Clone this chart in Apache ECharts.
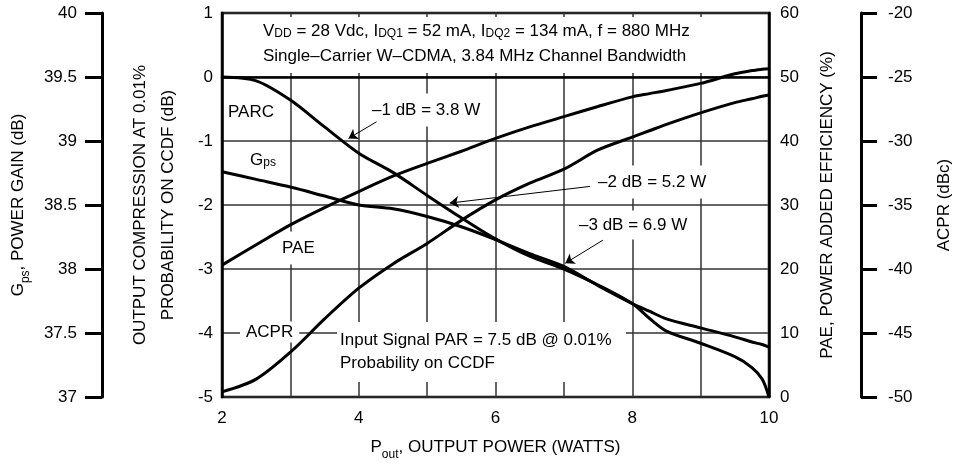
<!DOCTYPE html>
<html>
<head>
<meta charset="utf-8">
<script src="https://cdn.jsdelivr.net/npm/echarts@6/dist/echarts.min.js"></script>
<style>
  html, body { margin: 0; padding: 0; background: #fff; }
  #chart { width: 956px; height: 466px; }
</style>
</head>
<body>
<div id="chart"></div>
<script>
// output power (W) sample points
let power = [2, 2.5, 3, 3.5, 4, 4.5, 5, 5.5, 6, 6.5, 7, 7.5, 8, 8.25, 8.5, 9, 9.5, 9.75, 9.9, 10];
// output compression at 0.01% on CCDF (dB)
let parc = [0, -0.06, -0.36, -0.78, -1.19, -1.49, -1.85, -2.2, -2.53, -2.8, -3.0, -3.25, -3.54, -3.77, -3.97, -4.16, -4.37, -4.54, -4.72, -5.0];
// power gain (dB)
let gps = [38.76, 38.7, 38.64, 38.57, 38.5, 38.47, 38.41, 38.33, 38.23, 38.12, 38.02, 37.87, 37.73, 37.67, 37.61, 37.54, 37.47, 37.43, 37.41, 37.39];
// power added efficiency (%)
let pae = [20.6, 23.8, 26.9, 29.6, 32.1, 34.5, 36.5, 38.4, 40.4, 42.2, 43.8, 45.4, 46.9, 47.4, 47.9, 49.0, 50.5, 51.0, 51.2, 51.3];
// ACPR (dBc)
let acpr = [-49.6, -48.6, -46.5, -43.9, -41.5, -39.6, -38.0, -36.2, -34.6, -33.3, -32.2, -30.7, -29.7, -29.2, -28.7, -27.8, -27.0, -26.7, -26.5, -26.4];

// arrows for the compression points, in PARC axis units [x, y]
let arrow1 = [[4.26, -0.70], [3.85, -0.96]];
let arrow2 = [[7.38, -1.71], [5.33, -1.97]];
let arrow3 = [[7.57, -2.55], [7.02, -2.91]];

const FONT = '"Liberation Sans", Arial, sans-serif';
const TICK = 17;
const TXT = 17;

let chart = echarts.init(document.getElementById('chart'));

function pairs(ys) {
    return power.map((p, i) => [p, ys[i]]);
}

let subRich = {
    s: { fontSize: 12, fontFamily: FONT, color: '#000', verticalAlign: 'bottom', lineHeight: 10 }
};

let labelStyle = { color: '#000', fontSize: TICK, fontFamily: FONT };
let nameStyle = { color: '#000', fontSize: TXT, fontFamily: FONT, lineHeight: 28, rich: subRich };
let gridLine = { show: true, lineStyle: { color: '#333', width: 1.5 } };
let curve = { color: '#000', width: 3 };

function txt(x, y, text, extra) {
    return {
        type: 'text', x: x, y: y, z: 1,
        style: Object.assign({
            text: text, fill: '#000', fontSize: TXT, fontFamily: FONT,
            verticalAlign: 'middle', backgroundColor: '#fff', padding: [2, 4],
            rich: {
                s: { fontSize: 12, fontFamily: FONT, fill: '#000', verticalAlign: 'bottom', lineHeight: 10 }
            }
        }, extra || {})
    };
}

let option = {
    animation: false,
    backgroundColor: '#fff',
    grid: {
        left: 222, right: 187, top: 13, bottom: 69,
        outerBoundsMode: 'none',
        show: true, borderColor: '#000', borderWidth: 2.5
    },
    xAxis: {
        type: 'value', min: 2, max: 10, interval: 1,
        axisLine: { show: true, lineStyle: { color: '#000', width: 2.5 } },
        axisTick: { show: false },
        axisLabel: Object.assign({ margin: 13, formatter: v => (v % 2 === 0 ? v : '') }, labelStyle),
        splitLine: gridLine,
        name: 'P{s|out}, OUTPUT POWER (WATTS)',
        nameLocation: 'middle', nameGap: 36,
        nameTextStyle: nameStyle
    },
    yAxis: [
        {
            type: 'value', position: 'left', min: -5, max: 1, interval: 1,
            axisLine: { show: true, lineStyle: { color: '#000', width: 2.5 } },
            axisTick: { show: false },
            axisLabel: Object.assign({ margin: 9 }, labelStyle),
            splitLine: gridLine,
            name: 'OUTPUT COMPRESSION AT 0.01%\nPROBABILITY ON CCDF (dB)',
            nameLocation: 'middle', nameGap: 40, nameRotate: 90,
            nameTextStyle: nameStyle
        },
        {
            type: 'value', position: 'left', offset: 120, min: 37, max: 40, interval: 0.5,
            axisLine: { show: true, lineStyle: { color: '#000', width: 3 } },
            axisTick: { show: true, length: 17, lineStyle: { color: '#000', width: 3 } },
            axisLabel: Object.assign({ margin: 25 }, labelStyle),
            splitLine: { show: false },
            name: 'G{s|ps}, POWER GAIN (dB)',
            nameLocation: 'middle', nameGap: 70, nameRotate: 90,
            nameTextStyle: nameStyle
        },
        {
            type: 'value', position: 'right', min: 0, max: 60, interval: 10,
            axisLine: { show: true, lineStyle: { color: '#000', width: 2.5 } },
            axisTick: { show: false },
            axisLabel: Object.assign({ margin: 11 }, labelStyle),
            splitLine: { show: false },
            name: 'PAE, POWER ADDED EFFICIENCY (%)',
            nameLocation: 'middle', nameGap: 44, nameRotate: 90,
            nameTextStyle: nameStyle
        },
        {
            type: 'value', position: 'right', offset: 92, min: -50, max: -20, interval: 5,
            axisLine: { show: true, lineStyle: { color: '#000', width: 3 } },
            axisTick: { show: true, length: 16, lineStyle: { color: '#000', width: 3 } },
            axisLabel: Object.assign({ margin: 27 }, labelStyle),
            splitLine: { show: false },
            name: 'ACPR (dBc)',
            nameLocation: 'middle', nameGap: 69, nameRotate: 90,
            nameTextStyle: nameStyle
        }
    ],
    graphic: [
        { type: 'rect', z: 1, shape: { x: 224, y: 17, width: 543, height: 56 }, style: { fill: '#fff' } },
        txt(259, 31, 'V{s|DD} = 28 Vdc, I{s|DQ1} = 52 mA, I{s|DQ2} = 134 mA, f = 880 MHz', { backgroundColor: 'transparent' }),
        txt(259, 56, 'Single\u2013Carrier W\u2013CDMA, 3.84 MHz Channel Bandwidth', { backgroundColor: 'transparent' }),
        txt(224, 112, 'PARC', { padding: [2, 4] }),
        txt(246, 160, 'G{s|ps}', { padding: [2, 4] }),
        txt(278, 248, 'PAE', { padding: [8, 4] }),
        txt(240, 332, 'ACPR', { padding: [2, 6] }),
        txt(368, 110, '\u20131 dB = 3.8 W', { padding: [8, 4] }),
        txt(594, 182, '\u20132 dB = 5.2 W', { padding: [8, 4] }),
        txt(575, 225, '\u20133 dB = 6.9 W', { padding: [6, 4] }),
        { type: 'rect', z: 1, shape: { x: 337, y: 322, width: 289, height: 60 }, style: { fill: '#fff' } },
        txt(340, 340, 'Input Signal PAR = 7.5 dB @ 0.01%', { backgroundColor: 'transparent', padding: 0 }),
        txt(340, 363, 'Probability on CCDF', { backgroundColor: 'transparent', padding: 0 })
    ],
    series: [
        {
            name: 'PARC', type: 'line', yAxisIndex: 0, smooth: 0.3, showSymbol: false,
            data: pairs(parc), lineStyle: curve, z: 3,
            markLine: {
                silent: true, symbol: ['none', 'arrow'], symbolSize: 9,
                label: { show: false },
                lineStyle: { color: '#000', width: 1, type: 'solid' },
                data: [arrow1, arrow2, arrow3].map(a => [{ coord: a[0] }, { coord: a[1] }])
            }
        },
        { name: 'Gps', type: 'line', yAxisIndex: 1, smooth: 0.3, showSymbol: false, data: pairs(gps), lineStyle: curve, z: 3 },
        { name: 'PAE', type: 'line', yAxisIndex: 2, smooth: 0.3, showSymbol: false, data: pairs(pae), lineStyle: curve, z: 3 },
        { name: 'ACPR', type: 'line', yAxisIndex: 3, smooth: 0.3, showSymbol: false, data: pairs(acpr), lineStyle: curve, z: 3 }
    ]
};

chart.setOption(option);
window.addEventListener('resize', function () {
    chart.resize();
});
</script>
</body>
</html>
